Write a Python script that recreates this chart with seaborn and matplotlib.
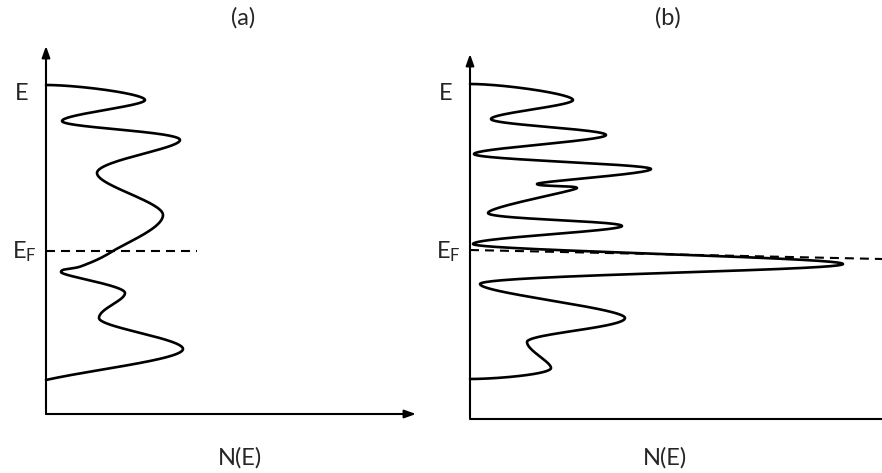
import numpy as np
import pandas as pd
import matplotlib
matplotlib.use("Agg")
import matplotlib.pyplot as plt
import seaborn as sns

# ---- density of states, panel (a): turning points of N(E) ----
a_dos = [0, 99, 16, 134, 51, 117, 67, 36, 15, 79, 53, 137, 0]
a_energy = [329, 314, 293, 274, 241, 199, 163, 148, 142, 121, 96, 65, 34]
a_turn = ["h", "v", "v", "v", "v", "v", "c", "c", "v", "v", "v", "v", "c"]

# ---- density of states, panel (b) ----
b_dos = [0, 103, 21, 136, 4, 181, 67, 107, 18, 152, 3, 373, 10, 155, 57, 81, 0]
b_energy = [335, 319, 300, 284, 265, 250, 235, 231, 206, 193, 175, 155, 135,
            101, 77, 51, 40]
b_turn = ["h", "v", "v", "v", "v", "v", "v", "v", "v", "v", "v", "v", "v",
          "v", "v", "v", "h"]

# Fermi level lines (N, E end points)
a_fermi_dos = [0, 151]
a_fermi_energy = [162.5, 162.5]
b_fermi_dos = [0, 412]
b_fermi_energy = [169, 160]

titles = ["(a)", "(b)"]
x_label = "N(E)"
e_label = "E"
ef_label = r"$\mathregular{E_F}$"


def smooth_curve(n_vals, e_vals, kinds, samples=80):
    """Parametric cubic Hermite curve through the turning points."""
    P = np.column_stack([n_vals, e_vals]).astype(float)
    n = len(P)
    T = np.zeros_like(P)
    for i in range(n):
        if i == 0:
            T[i] = P[1] - P[0]
        elif i == n - 1:
            T[i] = P[-1] - P[-2]
        else:
            T[i] = (P[i + 1] - P[i - 1]) / 2.0
        if kinds[i] == "v":
            T[i, 0] = 0.0
            lo = []
            if i > 0:
                lo.append(abs(P[i, 1] - P[i - 1, 1]))
            if i < n - 1:
                lo.append(abs(P[i + 1, 1] - P[i, 1]))
            cap = 2.0 * min(lo)
            T[i, 1] = np.clip(T[i, 1], -cap, cap)
        elif kinds[i] == "h":
            T[i, 1] = 0.0
    t = np.linspace(0, 1, samples)
    h00 = 2 * t**3 - 3 * t**2 + 1
    h10 = t**3 - 2 * t**2 + t
    h01 = -2 * t**3 + 3 * t**2
    h11 = t**3 - t**2
    pts = []
    for i in range(n - 1):
        seg = (np.outer(h00, P[i]) + np.outer(h10, T[i])
               + np.outer(h01, P[i + 1]) + np.outer(h11, T[i + 1]))
        pts.append(seg if i == 0 else seg[1:])
    pts = np.vstack(pts)
    return pd.DataFrame({"N": pts[:, 0], "E": pts[:, 1]})


sns.set_theme(style="white")
plt.rcParams["font.family"] = ["Lato", "DejaVu Sans"]

W, H = 882, 473
fig = plt.figure(figsize=(W / 100, H / 100), dpi=100)

panels = [
    dict(origin=(46, 414), size=(370, 368), dos=a_dos, energy=a_energy,
         turn=a_turn, fdos=a_fermi_dos, fen=a_fermi_energy, h_arrow=True),
    dict(origin=(470, 419), size=(412, 365), dos=b_dos, energy=b_energy,
         turn=b_turn, fdos=b_fermi_dos, fen=b_fermi_energy, h_arrow=False),
]

axis_kw = dict(color="black", lw=1.5)
arrow_style = "-|>,head_length=0.42,head_width=0.15"
fs = 17

for k, p in enumerate(panels):
    x0, y0 = p["origin"]
    w, h = p["size"]
    ax = fig.add_axes([x0 / W, (H - y0) / H, w / W, h / H])
    ax.set_xlim(0, w)
    ax.set_ylim(0, h)
    ax.set_axis_off()

    # energy axis with arrow
    ax.annotate("", xy=(0, h), xytext=(0, 0),
                arrowprops=dict(arrowstyle=arrow_style, mutation_scale=16,
                                shrinkA=0, shrinkB=0, **axis_kw),
                annotation_clip=False)
    # N(E) axis
    if p["h_arrow"]:
        ax.annotate("", xy=(w, 0), xytext=(0, 0),
                    arrowprops=dict(arrowstyle=arrow_style, mutation_scale=16,
                                    shrinkA=0, shrinkB=0, **axis_kw),
                    annotation_clip=False)
    else:
        ax.plot([0, w], [0, 0], clip_on=False, solid_capstyle="butt", **axis_kw)

    curve = smooth_curve(p["dos"], p["energy"], p["turn"])
    sns.lineplot(data=curve, x="N", y="E", sort=False, estimator=None,
                 color="black", lw=1.9, ax=ax, clip_on=False)

    fermi = pd.DataFrame({"N": p["fdos"], "E": p["fen"]})
    sns.lineplot(data=fermi, x="N", y="E", sort=False, estimator=None,
                 color="black", lw=1.5, linestyle=(0, (4.3, 2.9)), ax=ax,
                 clip_on=False)

    # text labels
    cx = x0 + 197 if k == 0 else x0 + 198
    fig.text(cx / W, 1 - 18 / H, titles[k], ha="center", va="center",
             fontsize=fs)
    fig.text((cx - 3) / W, 1 - 458 / H, x_label, ha="center", va="center",
             fontsize=fs)
    fig.text((x0 - 24) / W, 1 - 100 / H, e_label, ha="center",
             va="baseline", fontsize=fs)
    fig.text((x0 - 22) / W, 1 - 258 / H, ef_label, ha="center",
             va="baseline", fontsize=fs)

fig.savefig("out.png", dpi=100, facecolor="white")
